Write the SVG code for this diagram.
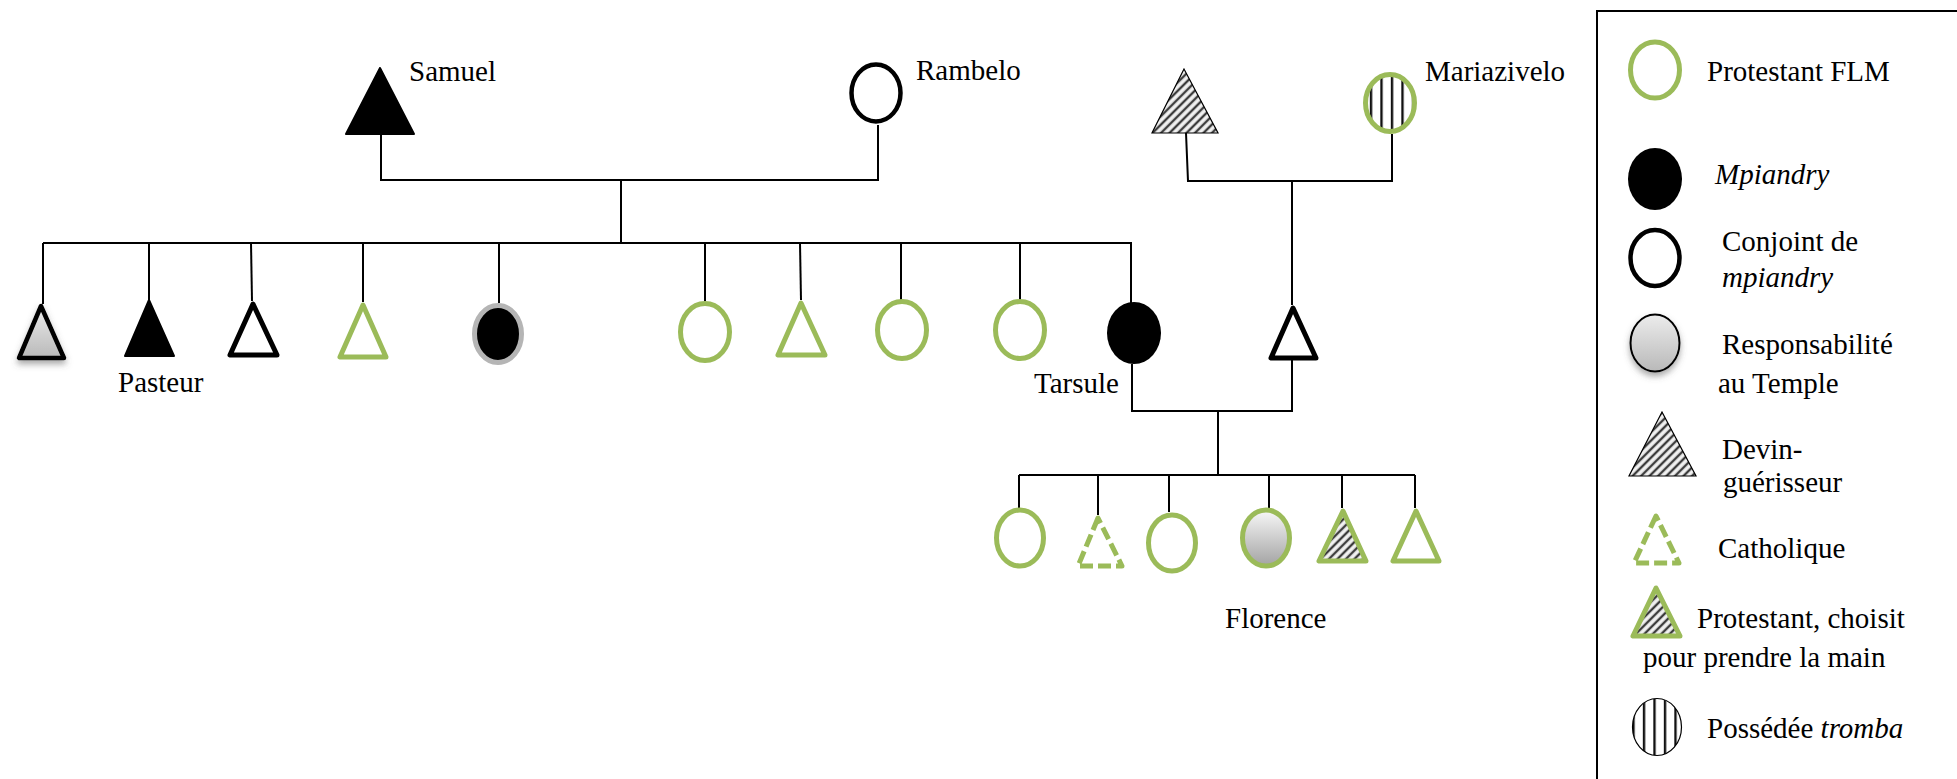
<svg xmlns="http://www.w3.org/2000/svg" width="1957" height="779" viewBox="0 0 1957 779">
  <defs>
    <pattern id="hatch" patternUnits="userSpaceOnUse" width="6" height="6" patternTransform="rotate(45)">
      <rect width="6" height="6" fill="#f2f2f2"/>
      <line x1="3" y1="0" x2="3" y2="6" stroke="#3c3c3c" stroke-width="2.4"/>
    </pattern>
    <pattern id="vstripe" patternUnits="userSpaceOnUse" width="10.5" height="10" x="1" y="0">
      <rect width="10.5" height="10" fill="#ffffff"/>
      <line x1="5" y1="0" x2="5" y2="10" stroke="#111" stroke-width="2.4"/>
    </pattern>
    <linearGradient id="greyFade" x1="0" y1="0" x2="0" y2="1">
      <stop offset="0" stop-color="#f7f7f7"/>
      <stop offset="1" stop-color="#a3a3a3"/>
    </linearGradient>
    <linearGradient id="greySoft" x1="0" y1="0" x2="0" y2="1">
      <stop offset="0" stop-color="#ececec"/>
      <stop offset="1" stop-color="#b9b9b9"/>
    </linearGradient>
    <filter id="shadow" x="-30%" y="-30%" width="160%" height="170%">
      <feDropShadow dx="0" dy="4" stdDeviation="3" flood-color="#555" flood-opacity="0.5"/>
    </filter>
    <style>
      .ln { stroke: #000; stroke-width: 2; fill: none; }
      .lbl { font-family: "Liberation Serif", "Times New Roman", serif; font-size: 29px; fill: #000; }
      .it { font-style: italic; }
      .green { fill: #fff; stroke: #9bbb59; stroke-width: 5; stroke-linejoin: round; }
      .greenDash { fill: #fff; stroke: #9bbb59; stroke-width: 5; stroke-dasharray: 13 5; stroke-linejoin: round; }
      .blackFill { fill: #000; stroke: #000; stroke-width: 2; stroke-linejoin: round; }
      .blackRing { fill: #fff; stroke: #000; stroke-width: 5; stroke-linejoin: round; }
      .hatchTri { fill: url(#hatch); stroke: #000; stroke-width: 1.2; }
    </style>
  </defs>

  <!-- connectors -->
  <g id="connectors">
    <!-- Samuel + Rambelo -->
    <polyline class="ln" points="381,135 381,180 878,180 878,125"/>
    <line class="ln" x1="621" y1="180" x2="621" y2="243"/>
    <line class="ln" x1="43" y1="243" x2="1132" y2="243"/>
    <line class="ln" x1="43" y1="243" x2="43" y2="304"/>
    <line class="ln" x1="149" y1="243" x2="149" y2="300"/>
    <line class="ln" x1="251" y1="243" x2="252" y2="301"/>
    <line class="ln" x1="363" y1="243" x2="363" y2="302"/>
    <line class="ln" x1="499" y1="243" x2="499" y2="303"/>
    <line class="ln" x1="705" y1="243" x2="705" y2="301"/>
    <line class="ln" x1="800" y1="243" x2="801" y2="300"/>
    <line class="ln" x1="901" y1="243" x2="901" y2="300"/>
    <line class="ln" x1="1020" y1="243" x2="1020" y2="300"/>
    <line class="ln" x1="1131" y1="242" x2="1131" y2="303"/>
    <!-- devin + Mariazivelo -->
    <polyline class="ln" points="1186,133 1188,181 1392,181 1392,134"/>
    <line class="ln" x1="1292" y1="181" x2="1292" y2="305"/>
    <!-- Tarsule + husband -->
    <polyline class="ln" points="1132,364 1132,411 1292,411 1292,360"/>
    <line class="ln" x1="1218" y1="411" x2="1218" y2="475"/>
    <line class="ln" x1="1019" y1="475" x2="1415" y2="475"/>
    <line class="ln" x1="1019" y1="475" x2="1019" y2="508"/>
    <line class="ln" x1="1098" y1="475" x2="1098" y2="515"/>
    <line class="ln" x1="1169" y1="475" x2="1169" y2="512"/>
    <line class="ln" x1="1269" y1="475" x2="1269" y2="508"/>
    <line class="ln" x1="1342" y1="475" x2="1342" y2="508"/>
    <line class="ln" x1="1415" y1="475" x2="1415" y2="508"/>
  </g>

  <!-- generation I -->
  <g id="samuel">
    <polygon class="blackFill" points="380,68 346,134 414,134"/>
    <text class="lbl" x="409" y="81">Samuel</text>
  </g>
  <g id="rambelo">
    <ellipse cx="876" cy="93" rx="24.5" ry="28.5" fill="#fff" stroke="#000" stroke-width="4.5"/>
    <text class="lbl" x="916" y="80">Rambelo</text>
  </g>
  <g id="devin">
    <polygon class="hatchTri" points="1184,69 1152,133 1218,133"/>
  </g>
  <g id="mariazivelo">
    <ellipse cx="1390" cy="103" rx="24.5" ry="28.5" fill="url(#vstripe)" stroke="#9bbb59" stroke-width="5"/>
    <text class="lbl" x="1425" y="81">Mariazivelo</text>
  </g>

  <!-- generation II -->
  <g id="child1">
    <polygon points="41,306 19,358 64,358" fill="url(#greySoft)" stroke="#000" stroke-width="4.5" stroke-linejoin="round" filter="url(#shadow)"/>
  </g>
  <g id="pasteur">
    <polygon class="blackFill" points="149,300 125,356 174,356"/>
    <text class="lbl" x="118" y="392">Pasteur</text>
  </g>
  <g id="child3">
    <polygon class="blackRing" points="253,304 230,355 277,355"/>
  </g>
  <g id="child4">
    <polygon class="green" points="363,305 340,357 386,357"/>
  </g>
  <g id="child5">
    <ellipse cx="498" cy="334" rx="23.5" ry="28.5" fill="#000" stroke="#b5b5b5" stroke-width="5"/>
  </g>
  <g id="child6">
    <ellipse class="green" cx="705" cy="332" rx="24.5" ry="28.5"/>
  </g>
  <g id="child7">
    <polygon class="green" points="801,303 778,355 825,355"/>
  </g>
  <g id="child8">
    <ellipse class="green" cx="902" cy="330" rx="24.5" ry="28.5"/>
  </g>
  <g id="child9">
    <ellipse class="green" cx="1020" cy="330" rx="24.5" ry="28.5"/>
  </g>
  <g id="tarsule">
    <ellipse cx="1134" cy="333" rx="27" ry="31" fill="#000"/>
    <text class="lbl" x="1034" y="393">Tarsule</text>
  </g>
  <g id="husband">
    <polygon class="blackRing" points="1293,308 1271,358 1316,358"/>
  </g>

  <!-- generation III -->
  <g id="gc1">
    <ellipse class="green" cx="1020" cy="538" rx="23.5" ry="28"/>
  </g>
  <g id="gc2">
    <polygon class="greenDash" points="1098,518 1078,566 1122,566"/>
  </g>
  <g id="gc3">
    <ellipse class="green" cx="1172" cy="543" rx="23.5" ry="28"/>
  </g>
  <g id="florence">
    <ellipse cx="1266" cy="538" rx="23.5" ry="28" fill="url(#greyFade)" stroke="#9bbb59" stroke-width="5"/>
    <text class="lbl" x="1225" y="628">Florence</text>
  </g>
  <g id="gc5">
    <polygon points="1343,511 1319,561 1366,561" fill="url(#hatch)" stroke="#9bbb59" stroke-width="5" stroke-linejoin="round"/>
  </g>
  <g id="gc6">
    <polygon class="green" points="1416,511 1393,561 1439,561"/>
  </g>

  <!-- legend -->
  <g id="legend">
    <polyline points="1597,779 1597,11 1957,11" fill="none" stroke="#000" stroke-width="2"/>

    <ellipse class="green" cx="1655" cy="70" rx="24.5" ry="28"/>
    <text class="lbl" x="1707" y="81">Protestant FLM</text>

    <ellipse cx="1655" cy="179" rx="27" ry="31" fill="#000"/>
    <text class="lbl it" x="1715" y="184">Mpiandry</text>

    <ellipse cx="1655" cy="258" rx="24.5" ry="28" fill="#fff" stroke="#000" stroke-width="4.5"/>
    <text class="lbl" x="1722" y="251">Conjoint de</text>
    <text class="lbl it" x="1722" y="287">mpiandry</text>

    <ellipse cx="1655" cy="343" rx="24.5" ry="28.5" fill="url(#greySoft)" stroke="#000" stroke-width="2" filter="url(#shadow)"/>
    <text class="lbl" x="1722" y="354">Responsabilité</text>
    <text class="lbl" x="1718" y="393">au Temple</text>

    <polygon class="hatchTri" points="1662,412 1629,476 1696,476"/>
    <text class="lbl" x="1722" y="459">Devin-</text>
    <text class="lbl" x="1723" y="492">guérisseur</text>

    <polygon class="greenDash" points="1656,516 1634,563 1679,563"/>
    <text class="lbl" x="1718" y="558">Catholique</text>

    <polygon points="1656,588 1633,636 1680,636" fill="url(#hatch)" stroke="#9bbb59" stroke-width="5" stroke-linejoin="round"/>
    <text class="lbl" x="1697" y="628">Protestant, choisit</text>
    <text class="lbl" x="1643" y="667">pour prendre la main</text>

    <ellipse cx="1657" cy="727" rx="24.5" ry="28.5" fill="url(#vstripe)" stroke="#000" stroke-width="1.2"/>
    <text class="lbl" x="1707" y="738">Possédée <tspan class="it">tromba</tspan></text>
  </g>
</svg>
